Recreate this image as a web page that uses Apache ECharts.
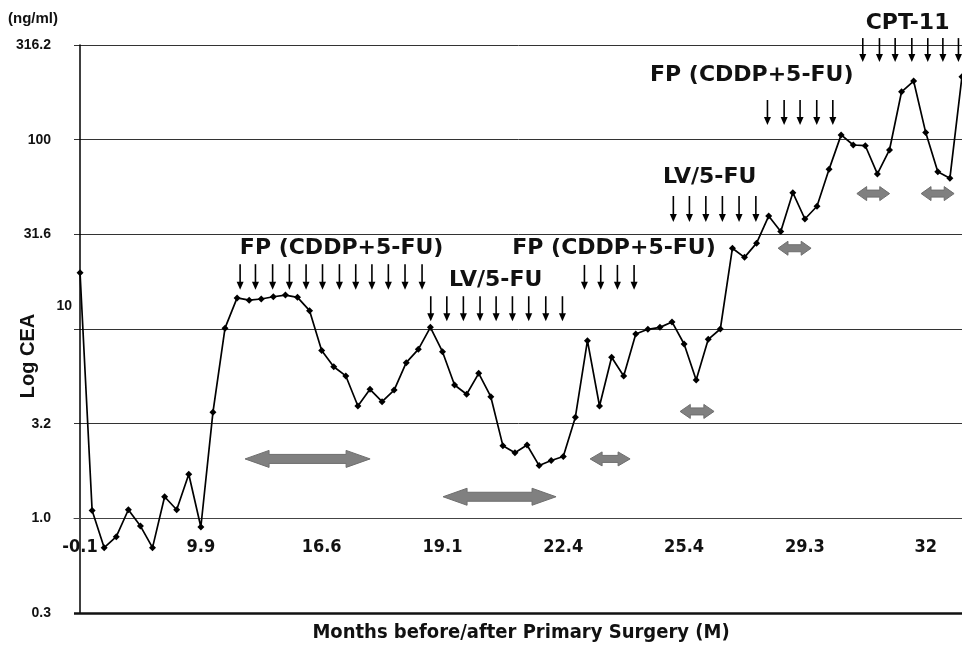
<!DOCTYPE html>
<html>
  <head>
    <meta charset="utf-8">
    <title>Log CEA</title>
    <script src="https://cdn.jsdelivr.net/npm/echarts@6/dist/echarts.min.js"></script>
    <style>
      html, body { margin: 0; padding: 0; background: #fff; }
      #main { width: 962px; height: 645px; }
    </style>
  </head>
  <body>
    <div id="main"></div>
    <script type="text/javascript">
      // CEA (ng/ml) at each visit
      var cea = [19.8, 1.10, 0.70, 0.80, 1.11, 0.91, 0.70, 1.30, 1.11, 1.71,
                 0.90, 3.63, 10.1, 14.6, 14.2, 14.4, 14.8, 15.1, 14.7, 12.5,
                 7.70, 6.32, 5.65, 3.92, 4.80, 4.13, 4.76, 6.64, 7.81, 10.2,
                 7.59, 5.06, 4.52, 5.83, 4.39, 2.42, 2.22, 2.44, 1.90, 2.02,
                 2.12, 3.42, 8.68, 3.92, 7.09, 5.65, 9.41, 9.96, 10.2, 10.9,
                 8.33, 5.38, 8.82, 10.0, 26.7, 23.9, 28.4, 39.5, 32.7, 52.5,
                 38.1, 44.5, 69.7, 106, 93.7, 92.9, 65.9, 88.2, 179, 204,
                 109, 67.7, 62.5, 215];
      // month labels, one every 10 visits
      var xTickLabels = ['-0.1', '9.9', '16.6', '19.1', '22.4', '25.4', '29.3', '32'];
      var yTickLabels = ['0.3', '1.0', '3.2', '10', '31.6', '100', '316.2'];

      // chemotherapy courses: name, label spot (visit pos, ng/ml), dose positions, arrow top/bottom (ng/ml)
      var regimenNames = ['FP (CDDP+5-FU)', 'LV/5-FU', 'FP (CDDP+5-FU)', 'LV/5-FU', 'FP (CDDP+5-FU)', 'CPT-11'];
      var regimenLabelX = [21.65, 34.40, 44.20, 52.11, 55.60, 68.50];
      var regimenLabelY = [26.8, 18.1, 26.8, 63.1, 219.6, 410.9];
      var regimenDoses = [
        [13.25, 14.52, 15.94, 17.33, 18.71, 20.07, 21.47, 22.82, 24.16, 25.52, 26.90, 28.31],
        [29.03, 30.36, 31.73, 33.11, 34.44, 35.79, 37.14, 38.55, 39.93],
        [41.75, 43.10, 44.48, 45.86],
        [49.11, 50.44, 51.80, 53.17, 54.55, 55.94],
        [56.90, 58.28, 59.60, 60.98, 62.31],
        [64.79, 66.17, 67.47, 68.85, 70.17, 71.42, 72.71]
      ];
      var regimenArrowTop = [22.0, 14.9, 21.8, 50.4, 162, 344];
      var regimenArrowBottom = [16.1, 11.0, 16.1, 36.7, 119.5, 257];

      // response periods (grey double arrows): start, end (visit pos), level (ng/ml)
      var responseStart = [13.66, 30.05, 42.22, 49.67, 57.78, 64.30, 69.62];
      var responseEnd = [24.01, 39.40, 45.53, 52.48, 60.51, 67.01, 72.35];
      var responseLevel = [2.06, 1.30, 2.06, 3.67, 26.7, 51.9, 51.9];

      var lg = function (v) { return Math.log(v) / Math.LN10; };

      var categories = cea.map(function (v, i) { return i; });
      var lineData = cea.map(lg);

      var doseData = [];
      for (var r = 0; r < regimenDoses.length; r++) {
        for (var j = 0; j < regimenDoses[r].length; j++) {
          doseData.push([regimenDoses[r][j], lg(regimenArrowTop[r]), lg(regimenArrowBottom[r])]);
        }
      }
      var labelData = regimenNames.map(function (n, i) {
        return [regimenLabelX[i], lg(regimenLabelY[i])];
      });
      var responseData = responseStart.map(function (s, i) {
        return [s, responseEnd[i], lg(responseLevel[i])];
      });

      var narrow = 'DejaVu Sans Condensed';

      var myChart = echarts.init(document.getElementById('main'));
      var option = {
        animation: false,
        backgroundColor: '#fff',
        title: {
          text: '(ng/ml)',
          left: 3,
          top: 6,
          textStyle: { fontFamily: 'Liberation Sans', fontWeight: 'bold', fontSize: 15, color: '#111' }
        },
        grid: { left: 74, right: -6, top: 45, bottom: 32, outerBoundsMode: 'none', containLabel: false },
        xAxis: [
          {
            type: 'category',
            data: categories,
            boundaryGap: true,
            position: 'bottom',
            offset: -95,
            axisLine: { lineStyle: { color: '#444', width: 1 } },
            axisTick: { interval: 9, inside: true, length: 4, lineStyle: { color: '#444' } },
            axisLabel: {
              interval: 9,
              margin: 20,
              fontFamily: narrow,
              fontWeight: 'bold',
              fontSize: 18,
              color: '#111',
              formatter: function (v, i) { return i % 10 === 0 ? xTickLabels[i / 10] : ''; }
            },
            splitLine: { show: false },
            name: 'Months before/after Primary Surgery (M)',
            nameLocation: 'middle',
            nameGap: 105,
            nameMoveOverlap: false,
            nameTextStyle: { fontFamily: narrow, fontWeight: 'bold', fontSize: 20, color: '#111' }
          },
          {
            type: 'value',
            min: -0.5,
            max: 73.5,
            show: false
          }
        ],
        yAxis: {
          type: 'value',
          min: -0.5,
          max: 2.5,
          interval: 0.5,
          axisLine: { show: true, lineStyle: { color: '#000', width: 1.5 } },
          axisTick: { show: false },
          splitLine: { lineStyle: { color: '#333', width: 1 } },
          axisLabel: {
            margin: 2,
            formatter: function (v) {
              var t = yTickLabels[Math.round((v + 0.5) / 0.5)];
              return t === '10' ? '{up|' + t + '}' : '{n|' + t + '}';
            },
            rich: {
              n: { fontFamily: 'Liberation Sans', fontWeight: 'bold', fontSize: 14, color: '#111', padding: [0, 21, 0, 0] },
              up: { fontFamily: 'Liberation Sans', fontWeight: 'bold', fontSize: 14, color: '#111', padding: [0, 0, 46, 0] }
            }
          },
          name: 'Log CEA',
          nameLocation: 'middle',
          nameRotate: 90,
          nameGap: 36,
          nameMoveOverlap: false,
          nameTextStyle: { fontFamily: 'Liberation Sans', fontWeight: 'bold', fontSize: 20, color: '#111', padding: [0, 54, 0, 0] }
        },
        series: [
          {
            type: 'line',
            data: lineData,
            symbol: 'diamond',
            symbolSize: 7,
            itemStyle: { color: '#000' },
            lineStyle: { color: '#000', width: 1.7 },
            z: 5,
            markLine: {
              silent: true,
              symbol: 'none',
              label: { show: false },
              lineStyle: { color: '#111', width: 2.5, type: 'solid' },
              data: [{ yAxis: -0.5 }]
            }
          },
          {
            type: 'custom',
            xAxisIndex: 1,
            data: responseData,
            encode: { x: [0, 1], y: 2 },
            renderItem: function (params, api) {
              var a = api.coord([api.value(0), api.value(2)]);
              var b = api.coord([api.value(1), api.value(2)]);
              var len = b[0] - a[0];
              var hl = Math.min(24, len * 0.3);
              var hh = len > 60 ? 8.5 : 7;
              var sh = len > 60 ? 4.5 : 3.5;
              var y = a[1];
              return {
                type: 'polygon',
                shape: {
                  points: [[a[0], y], [a[0] + hl, y - hh], [a[0] + hl, y - sh], [b[0] - hl, y - sh],
                           [b[0] - hl, y - hh], [b[0], y], [b[0] - hl, y + hh], [b[0] - hl, y + sh],
                           [a[0] + hl, y + sh], [a[0] + hl, y + hh]]
                },
                style: { fill: '#808080', stroke: '#6e6e6e', lineWidth: 1 }
              };
            },
            z: 3
          },
          {
            type: 'custom',
            xAxisIndex: 1,
            data: doseData,
            encode: { x: 0, y: [1, 2] },
            renderItem: function (params, api) {
              var t = api.coord([api.value(0), api.value(1)]);
              var b = api.coord([api.value(0), api.value(2)]);
              return {
                type: 'group',
                children: [
                  { type: 'line', shape: { x1: t[0], y1: t[1], x2: b[0], y2: b[1] - 6 }, style: { stroke: '#000', lineWidth: 1.6 } },
                  { type: 'polygon', shape: { points: [[b[0] - 3.5, b[1] - 8], [b[0] + 3.5, b[1] - 8], [b[0], b[1]]] }, style: { fill: '#000' } }
                ]
              };
            },
            z: 4
          },
          {
            type: 'custom',
            xAxisIndex: 1,
            data: labelData,
            encode: { x: 0, y: 1 },
            renderItem: function (params, api) {
              var p = api.coord([api.value(0), api.value(1)]);
              return {
                type: 'text',
                x: p[0],
                y: p[1],
                style: {
                  text: regimenNames[params.dataIndex],
                  fill: '#111',
                  fontFamily: 'DejaVu Sans',
                  fontWeight: 'bold',
                  fontSize: 22,
                  align: 'center',
                  verticalAlign: 'middle'
                }
              };
            },
            z: 4
          }
        ]
      };
      myChart.setOption(option);
    </script>
  </body>
</html>
